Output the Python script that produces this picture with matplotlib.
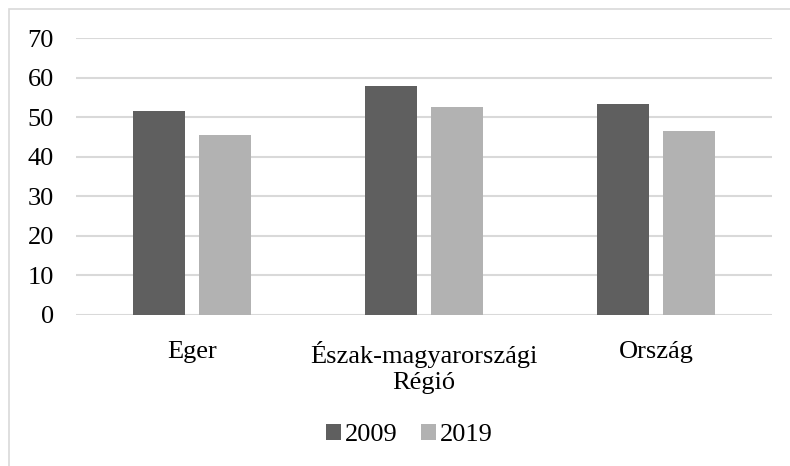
import matplotlib.pyplot as plt
import numpy as np
from matplotlib.patches import Rectangle

categories = ["Eger", "Észak-magyarországi\nRégió", "Ország"]
values_2009 = [51.6, 57.9, 53.4]
values_2019 = [45.5, 52.5, 46.6]
series_labels = ["2009", "2019"]
yticks = [0, 10, 20, 30, 40, 50, 60, 70]

plt.rcParams['font.family'] = ['Liberation Serif', 'DejaVu Serif']

fig = plt.figure(figsize=(7.9, 4.66), dpi=100)
ax = fig.add_axes([0.0962, 0.3247, 0.8808, 0.5931])

x = np.arange(len(categories))
w = 0.223
off = 0.142
ax.bar(x - off, values_2009, w, color="#5f5f5f", label=series_labels[0], zorder=3)
ax.bar(x + off, values_2019, w, color="#b2b2b2", label=series_labels[1], zorder=3)

ax.set_xlim(-0.5, 2.5)
ax.set_ylim(0, 70)
ax.set_yticks(yticks)
ax.set_xticks(x)
ax.set_xticklabels(categories, fontsize=19, linespacing=1.22)
ax.tick_params(axis="y", labelsize=19, length=0, pad=16)
ax.tick_params(axis="x", length=0, pad=19)
ax.grid(axis="y", color="#d9d9d9", linewidth=1.5, zorder=0)
for s in ax.spines.values():
    s.set_visible(False)

leg = fig.legend(loc="center", bbox_to_anchor=(0.518, 0.066), ncol=2, frameon=False,
                 fontsize=19, handlelength=0.55, handleheight=0.55, handletextpad=0.15,
                 columnspacing=0.9)

# light frame around the chart area
fig.patches.append(Rectangle((8.5 / 790, -0.1), 1.2, 1 - 8.5 / 466 + 0.1,
                             transform=fig.transFigure, fill=False,
                             edgecolor="#d9d9d9", linewidth=1.2))

fig.savefig("out.png", dpi=100)
